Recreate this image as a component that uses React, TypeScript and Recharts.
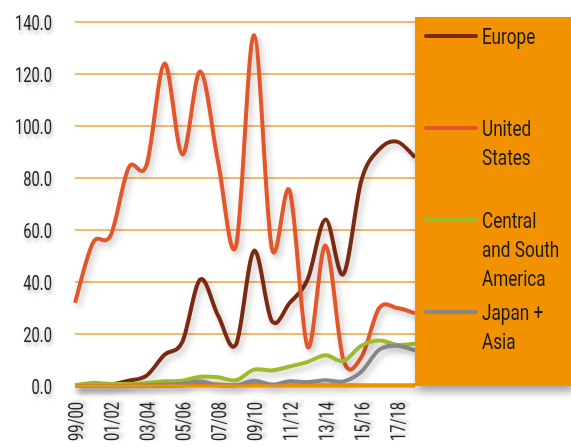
import { LineChart, Line, XAxis, YAxis, CartesianGrid, Legend } from "recharts";

const YEARS = [
  "99/00", "00/01", "01/02", "02/03", "03/04", "04/05", "05/06", "06/07", "07/08", "08/09",
  "09/10", "10/11", "11/12", "12/13", "13/14", "14/15", "15/16", "16/17", "17/18", "18/19",
];
const EUROPE = [0, 0, 0.5, 2, 4, 12, 17, 41, 27, 16, 52, 25, 32, 41, 64, 43, 79, 91, 94, 88];
const UNITED_STATES = [32, 55, 58, 84, 85, 124, 89, 121, 86, 54, 135, 53, 75, 15, 54, 10, 11, 30, 30, 28];
const CENTRAL_SOUTH_AMERICA = [0.3, 1.2, 0.8, 0.8, 1.2, 1.8, 2, 3.6, 3.4, 2.2, 6.3, 6, 7.5, 9.3, 11.8, 9.6, 15.5, 17.5, 15.8, 16.3];
const JAPAN_ASIA = [0, 0, 0, 0, 0.3, 0.5, 0.8, 1.8, 0.3, 0.3, 2, 0.6, 1.8, 1.5, 2.2, 1.8, 5.5, 14, 15.5, 13.7];
const OTHER = [0, 0, 0, 0, 0, 0, 0.2, 0.9, 0.6, 0.3, 0.6, 0.3, 0.3, 0.3, 0.3, 0.3, 0.3, 0.3, 0.3, 0.3];
const Y_TICKS = [0, 20, 40, 60, 80, 100, 120, 140];

const SERIES = [
  { key: "europe", name: "Europe", color: "#7a2a12", values: EUROPE },
  { key: "us", name: "United States", color: "#e2562a", values: UNITED_STATES },
  { key: "csa", name: "Central and South America", color: "#9dbb2b", values: CENTRAL_SOUTH_AMERICA },
  { key: "asia", name: "Japan + Asia", color: "#878787", values: JAPAN_ASIA },
];

const ORANGE = "#f39200";
const FONT = "Roboto, 'Noto Sans', sans-serif";
const TEXT = "#1e1e1e";
// no condensed font installed, so text gets squeezed horizontally
const SQUEEZE = 0.7;

const data = YEARS.map((year, i) => {
  const row: Record<string, string | number> = { year, other: OTHER[i] };
  SERIES.forEach(s => { row[s.key] = s.values[i]; });
  return row;
});

// excel-like smoothing (catmull-rom through the points)
function smoothCurve(context: any) {
  let pts: number[][] = [];
  return {
    areaStart() {},
    areaEnd() {},
    lineStart() { pts = []; },
    point(x: number, y: number) { pts.push([+x, +y]); },
    lineEnd() {
      const n = pts.length;
      if (!n) return;
      context.moveTo(pts[0][0], pts[0][1]);
      const t = 1 / 6;
      for (let i = 0; i < n - 1; i++) {
        const p0 = pts[Math.max(i - 1, 0)];
        const p1 = pts[i];
        const p2 = pts[i + 1];
        const p3 = pts[Math.min(i + 2, n - 1)];
        context.bezierCurveTo(
          p1[0] + (p2[0] - p0[0]) * t, p1[1] + (p2[1] - p0[1]) * t,
          p2[0] - (p3[0] - p1[0]) * t, p2[1] - (p3[1] - p1[1]) * t,
          p2[0], p2[1],
        );
      }
    },
  };
}

function XTick({ x, y, payload }: any) {
  return (
    <text
      transform={`translate(${x}, ${y}) rotate(-90) scale(${SQUEEZE}, 1)`}
      dy="0.36em"
      textAnchor="end"
      fontSize={21}
      fill={TEXT}
      fontFamily={FONT}
      className="shadowed-text"
    >
      {payload.value}
    </text>
  );
}

function YTick({ x, y, payload }: any) {
  return (
    <text
      transform={`translate(${x}, ${y}) scale(${SQUEEZE}, 1)`}
      dy="0.36em"
      textAnchor="end"
      fontSize={21}
      fill={TEXT}
      fontFamily={FONT}
      className="shadowed-text"
    >
      {Number(payload.value).toFixed(1)}
    </text>
  );
}

function LegendBox() {
  const scale = 0.78;
  return (
    <div
      style={{
        width: 156,
        height: 369,
        background: ORANGE,
        boxShadow: "3px 6px 8px rgba(0,0,0,0.35)",
        position: "relative",
        fontFamily: FONT,
        fontSize: 22,
        lineHeight: "29px",
        color: "#1a1a1a",
      }}
    >
      {SERIES.map((s, i) => (
        <div key={s.key} style={{ position: "absolute", top: 5 + i * 92, left: 0, width: 156 }}>
          <div
            style={{
              position: "absolute",
              left: 9,
              top: 12,
              width: 54,
              height: 4,
              borderRadius: 2,
              background: s.color,
            }}
          />
          <div
            style={{
              position: "absolute",
              left: 67,
              width: 104,
              transform: `scaleX(${scale})`,
              transformOrigin: "0 0",
            }}
          >
            {s.name}
          </div>
        </div>
      ))}
    </div>
  );
}

export default function App() {
  return (
    <div style={{ position: "absolute", left: 0, top: 0, width: 571, height: 447, background: "#fff", overflow: "hidden" }}>
      <style>{`
        .recharts-line-curve { filter: drop-shadow(3px 4px 3px rgba(0,0,0,0.22)); }
        .shadowed-text { filter: drop-shadow(2px 3px 2px rgba(0,0,0,0.3)); }
      `}</style>
      <LineChart width={571} height={447} data={data} margin={{ top: 22, right: 0, left: 0, bottom: 0 }}>
        <CartesianGrid horizontal vertical={false} stroke="#f2a23a" strokeWidth={1.5} />
        <XAxis
          dataKey="year"
          height={61}
          interval={1}
          tick={<XTick />}
          tickLine={false}
          tickSize={0}
          tickMargin={16}
          axisLine={{ stroke: ORANGE, strokeWidth: 3 }}
        />
        <YAxis
          width={75}
          domain={[0, 140]}
          ticks={Y_TICKS}
          axisLine={false}
          tickLine={false}
          tickSize={0}
          tickMargin={23}
          tick={<YTick />}
        />
        <Legend
          layout="vertical"
          align="right"
          verticalAlign="top"
          content={<LegendBox />}
          wrapperStyle={{ top: 17, right: 0 }}
        />
        <Line
          dataKey="other"
          name="Other"
          type={smoothCurve as any}
          stroke={ORANGE}
          strokeWidth={4}
          dot={false}
          legendType="none"
          isAnimationActive={false}
        />
        {SERIES.map(s => (
          <Line
            key={s.key}
            dataKey={s.key}
            name={s.name}
            type={smoothCurve as any}
            stroke={s.color}
            strokeWidth={4}
            dot={false}
            isAnimationActive={false}
          />
        ))}
      </LineChart>
    </div>
  );
}
